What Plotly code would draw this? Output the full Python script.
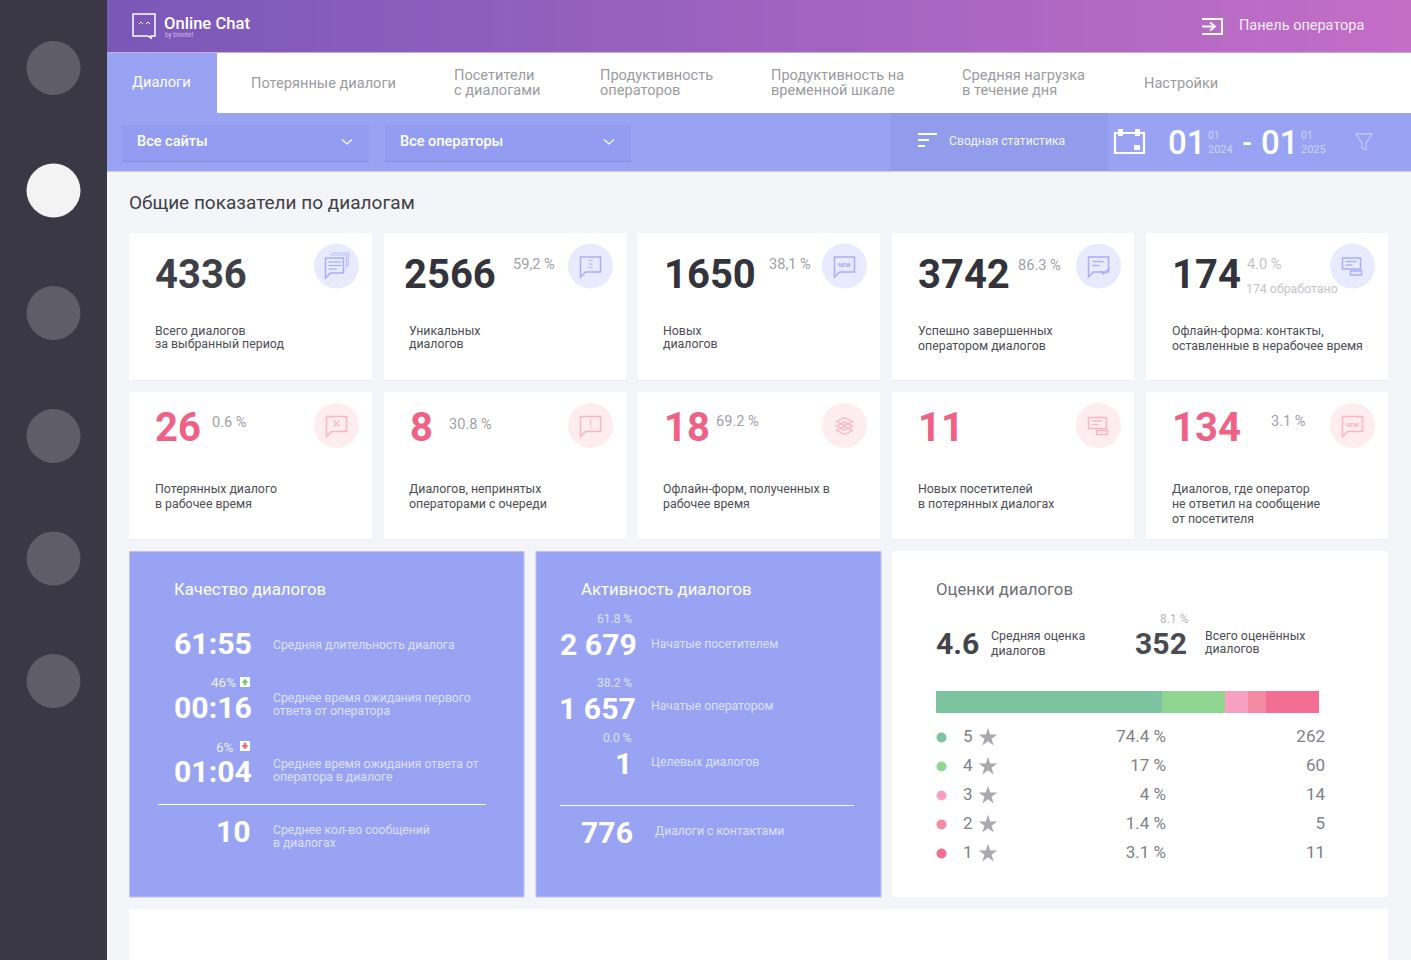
import plotly.graph_objects as go

# ---------- data ----------
tabs = [("Потерянные диалоги",), ("Посетители", "с диалогами"), ("Продуктивность", "операторов"),
        ("Продуктивность на", "временной шкале"), ("Средняя нагрузка", "в течение дня"), ("Настройки",)]
top_values = ["4336", "2566", "1650", "3742", "174"]
top_shares = ["", "59,2 %", "38,1 %", "86.3 %", "4.0 %"]
top_labels = [("Всего диалогов", "за выбранный период"), ("Уникальных", "диалогов"), ("Новых", "диалогов"),
              ("Успешно завершенных", "оператором диалогов"), ("Офлайн-форма: контакты,", "оставленные в нерабочее время")]
low_values = ["26", "8", "18", "11", "134"]
low_shares = ["0.6 %", "30.8 %", "69.2 %", "", "3.1 %"]
low_labels = [("Потерянных диалого", "в рабочее время"), ("Диалогов, непринятых", "операторами с очереди"),
              ("Офлайн-форм, полученных в", "рабочее время"), ("Новых посетителей", "в потерянных диалогах"),
              ("Диалогов, где оператор", "не ответил на сообщение", "от посетителя")]
quality_values = ["61:55", "00:16", "01:04", "10"]
quality_labels = [("Средняя длительность диалога",), ("Среднее время ожидания первого", "ответа от оператора"),
                  ("Среднее время ожидания ответа от", "оператора в диалоге"), ("Среднее кол-во сообщений", "в диалогах")]
activity_values = ["2 679", "1 657", "1", "776"]
activity_shares = ["61.8 %", "38.2 %", "0.0 %", ""]
activity_labels = ["Начатые посетителем", "Начатые оператором", "Целевых диалогов", "Диалоги с контактами"]
ratings = ["5", "4", "3", "2", "1"]
rating_shares = ["74.4 %", "17 %", "4 %", "1.4 %", "3.1 %"]
rating_counts = ["262", "60", "14", "5", "11"]
rating_bar_widths = [59.0, 16.4, 6.1, 4.7, 14.1]  # segment widths as drawn, percent of bar
rating_colors = ["#7cc3a0", "#90d590", "#f7a0bf", "#f48ba3", "#f46d93"]

# ---------- palette ----------
BG = "#f4f5f8"; SIDE = "#3b3845"; BLUE = "#99a3f3"; PINK = "#ef6285"; DARK = "#33333b"
GRAY = "#a0a0a6"; LABEL = "#4d4d55"; ICON = "#a6aef8"; ICONP = "#fab4c6"; SOFT = "#dde0fc"
LS = 12.35  # small label size
DS = 12.2   # panel description size
NS = 40     # KPI number size
VS = 30.2   # panel value size
PT = 16.75  # panel title size

W, H = 1411, 960
shapes, ann = [], []


def rect(x0, y0, x1, y1, fill, **kw):
    shapes.append(dict(type="rect", xref="x", yref="y", x0=x0, y0=y0, x1=x1, y1=y1,
                       fillcolor=fill, line=dict(width=kw.get("lw", 0), color=kw.get("lc", fill)), layer="below"))


def circle(cx, cy, r, fill):
    shapes.append(dict(type="circle", xref="x", yref="y", x0=cx - r, y0=cy - r, x1=cx + r, y1=cy + r,
                       fillcolor=fill, line=dict(width=0), layer="below"))


def path(d, color, lw=1.5, fill=None):
    shapes.append(dict(type="path", xref="x", yref="y", path=d, line=dict(color=color, width=lw),
                       fillcolor=fill if fill else "rgba(0,0,0,0)", layer="below"))


def seg(x0, y0, x1, y1, color, lw=1.5):
    shapes.append(dict(type="line", xref="x", yref="y", x0=x0, y0=y0, x1=x1, y1=y1,
                       line=dict(color=color, width=lw), layer="below"))


def text(x, y, s, size=LS, color=LABEL, weight=400, anchor="left"):
    ann.append(dict(x=x, y=y, xref="x", yref="y", text=s, showarrow=False, xanchor=anchor, yanchor="middle",
                    borderpad=0, borderwidth=0, font=dict(family="Roboto", size=size, color=color, weight=weight)))


def lines(x, ys, rows, **kw):
    for y, row in zip(ys, rows):
        text(x, y, row, **kw)


def bubble(x, y, w, h, color, lw=1.5, fill=None):
    path(f"M{x},{y} H{x+w} V{y+h} H{x+5} L{x},{y+h+5} Z", color, lw, fill)


# ---------- page frame ----------
rect(0, 0, 107, H, SIDE)
for i, cy in enumerate([68, 190.5, 313, 436, 558.5, 681]):
    circle(53.5, cy, 27, "#f3f3f3" if i == 1 else "#5f5d67")

# header gradient built from thin strips
c0, c1 = (122, 88, 184), (195, 110, 199)
n = 163
for i in range(n):
    t = i / (n - 1)
    col = "rgb({},{},{})".format(*[round(a + (b - a) * t) for a, b in zip(c0, c1)])
    x0 = 107 + i * 8
    rect(x0, 0, min(x0 + 9, W), 52, col)
rect(107, 52, W, 53, "#c9a8e0")
rect(107, 53, W, 113, "#ffffff")
rect(107, 53, 217, 113, BLUE)
rect(107, 113, W, 171, BLUE)
rect(107, 171, W, 172, "#cbd0f8")
rect(890, 113, 1108, 171, "#919cec")

# logo
path("M133,14 H155 V36 H151 V38 L148,36 H133 Z", "#ffffff", 1.5)
path("M139,24 L141,22 L143,24", "#ffffff", 1)
path("M146,24 L148,22 L150,24", "#ffffff", 1)
text(164, 23, "Online Chat", 16.6, "#ffffff", 500)
text(165, 35, "by binotel", 6.5, "#d4bdea")

# operator panel icon
path("M1202,19 H1222 V34 H1202", "#ffffff", 2)
seg(1202, 26.5, 1214, 26.5, "#ffffff", 2)
path("M1210,22.5 L1215,26.5 L1210,30.5", "#ffffff", 2)
text(1239, 25.5, "Панель оператора", 14.5, "#f6ecfa")

# tabs
text(132, 82, "Диалоги", 14.6, "#ffffff")
tab_x = [251, 454, 600, 771, 962, 1144]
for x, rows in zip(tab_x, tabs):
    if len(rows) == 1:
        text(x, 82.5, rows[0], 14.6, "#9b9ba0")
    else:
        lines(x, [75, 90], rows, size=14.6, color="#9b9ba0")

# filters
for x0, x1, label, tx, chev in [(122, 369, "Все сайты", 137, 347), (385, 631, "Все операторы", 400, 609)]:
    rect(x0, 125, x1, 161, "#929df1")
    rect(x0, 161, x1, 162, "#8590e0")
    text(tx, 141.5, label, 14.5, "#ffffff", 500)
    path(f"M{chev-5},139.5 L{chev},144 L{chev+5},139.5", "#ffffff", 1.2)

for x1, y in [(937, 134), (929, 140), (925, 146)]:
    seg(918, y, x1, y, "#ffffff", 2)
text(949, 140.5, "Сводная статистика", 12.2, "#f3f4fe")

# calendar + dates
path("M1115,133 H1144 V153 H1115 Z", "#ffffff", 2.2)
rect(1118, 129, 1123, 136, "#ffffff")
rect(1135, 129, 1140, 136, "#ffffff")
rect(1134, 145, 1140, 150, "#ffffff")
text(1168, 142.5, "01", 33, "#ffffff", 500)
text(1208, 135, "01", 10.5, "#cdd1fa")
text(1208, 149, "2024", 11, "#cdd1fa")
text(1242, 143, "-", 26, "#ffffff", 700)
text(1261, 142.5, "01", 33, "#ffffff", 500)
text(1301, 135, "01", 10.5, "#cdd1fa")
text(1301, 149, "2025", 11, "#cdd1fa")
path("M1356,134 H1372 L1366,143 V150 L1362,148 V143 Z", "#c3c8f8", 1.3)

text(129, 202.5, "Общие показатели по диалогам", 19, "#3f3f47")


# ---------- KPI cards ----------
def icon(kind, cx, cy, c):
    x, y = cx - 10, cy - 9
    if kind == "stack":
        path(f"M{x+5},{y-4} H{x+22} V{y+9}", "#bcc2f9", 1.2)
        path(f"M{x+3},{y-2} H{x+20} V{y+11}", "#bcc2f9", 1.2)
        bubble(x - 1, y + 1, 18, 15, c, 1.5, "#e8eafd")
        for k, ww in ((5, 13), (8.5, 13), (12, 8)):
            seg(x + 2, y + k, x + 2 + ww, y + k, c, 1.2)
    elif kind == "list":
        bubble(x, y, 20, 15, c)
        for k in (3.5, 7, 10.5):
            seg(x + 8, y + k, x + 12, y + k, "#b8bef9", 1.2)
    elif kind == "new":
        bubble(x, y, 20, 15, c)
        text(cx, y + 7.5, "NEW", 6, c, 700, "center")
    elif kind == "check":
        bubble(x, y, 20, 15, c)
        seg(x + 4, y + 4.5, x + 15, y + 4.5, c, 1.3)
        seg(x + 4, y + 8.5, x + 11, y + 8.5, c, 1.3)
        path(f"M{x+12},{y+14} L{x+15},{y+17} L{x+21},{y+11}", c, 1.3)
    elif kind == "form":
        rect(x, y + 1, x + 18, y + 12, "rgba(0,0,0,0)", lw=1.5, lc=c)
        seg(x + 3, y + 4.5, x + 14, y + 4.5, c, 1.3)
        seg(x + 3, y + 8, x + 10, y + 8, c, 1.3)
        rect(x + 8, y + 14, x + 19, y + 18, "rgba(0,0,0,0)", lw=1.5, lc=c)
    elif kind == "x":
        bubble(x, y, 20, 15, c)
        seg(cx - 3, y + 4, cx + 3, y + 10, c, 1.2)
        seg(cx + 3, y + 4, cx - 3, y + 10, c, 1.2)
    elif kind == "excl":
        bubble(x, y, 20, 15, c)
        seg(cx, y + 3.5, cx, y + 8.5, c, 1.3)
        seg(cx, y + 10, cx, y + 11.5, c, 1.3)
    elif kind == "layers":
        for dy in (0, 4.5, 9):
            path(f"M{cx-8},{y+5+dy} L{cx},{y+1+dy} L{cx+8},{y+5+dy} L{cx},{y+9+dy} Z", c, 1.2,
                 "#fdecf0" if dy == 0 else None)


card_x = [(129, 372), (384, 626), (638, 880), (892, 1134), (1146, 1388)]
top_vx = [155, 404, 664, 918, 1172]
top_px = [0, 513, 769, 1018, 1247]
top_py = [0, 264, 264, 265, 264]
top_lx = [155, 409, 663, 918, 1172]
top_ly = [(331, 344), (331, 344), (331, 344), (331, 346), (331, 346)]
top_ic = ["stack", "list", "new", "check", "form"]
low_vx = [155, 410, 664, 918, 1172]
low_px = [212, 449, 716, 0, 1271]
low_py = [422, 424, 421, 0, 421]
low_ic = ["x", "excl", "layers", "form", "new"]

for i, (x0, x1) in enumerate(card_x):
    for y0, y1 in ((233, 380), (392, 539)):
        rect(x0, y0 + 1, x1, y1 + 1, "#edeef2")
        rect(x0, y0, x1, y1, "#ffffff")
    cx = x1 - 35.5
    circle(cx, 266, 22.5, "#e8eafd")
    icon(top_ic[i], cx, 266, ICON)
    circle(cx, 425.5, 22.5, "#fdecf0")
    icon(low_ic[i], cx, 425.5, ICONP)
    text(top_vx[i], 274, top_values[i], NS, "#3f3f47" if i == 0 else DARK, 700)
    if top_shares[i]:
        text(top_px[i], top_py[i], top_shares[i], 14.6, "#c3c3c8" if i == 4 else GRAY)
    lines(top_lx[i], top_ly[i], top_labels[i])
    text(low_vx[i], 427, low_values[i], NS, PINK, 700)
    if low_shares[i]:
        text(low_px[i], low_py[i], low_shares[i], 14.6, GRAY)
    lines(top_lx[i], (489, 504, 519), low_labels[i])
text(1246, 289, "174 обработано", LS, "#c3c3c8")

# ---------- quality panel ----------
rect(129.5, 551.5, 524, 897, BLUE, lw=1, lc="#bcc2f8")
text(174, 589, "Качество диалогов", PT, "#ffffff")
for v, y in zip(quality_values[:3], (643, 707, 771)):
    text(174, y, v, VS, "#ffffff", 700)
text(251, 831, quality_values[3], VS, "#ffffff", 700, "right")
for rows, ys in zip(quality_labels, ((645,), (698, 711), (764, 777), (830, 843))):
    lines(273, ys, rows, size=DS, color=SOFT)
text(236, 681.5, "46%", 13.5, "#eceefe", 400, "right")
text(234, 746.5, "6%", 13.5, "#eceefe", 400, "right")
rect(240, 677, 250, 687, "#ffffff")
path("M245,679 L248,682.5 H246 V685 H244 V682.5 H242 Z", "#74c476", 0.5, "#74c476")
rect(240, 741, 250, 751, "#ffffff")
path("M245,749 L248,745.5 H246 V743 H244 V745.5 H242 Z", "#f0607f", 0.5, "#f0607f")
seg(158, 804.5, 486, 804.5, "#ffffff", 1.2)

# ---------- activity panel ----------
rect(536, 551.5, 881, 897, BLUE, lw=1, lc="#bcc2f8")
text(581, 589, "Активность диалогов", PT, "#ffffff")
for v, s, lab, vy, sy, ly, rx in zip(activity_values, activity_shares, activity_labels,
                                     (644, 708, 763, 832), (619, 683, 738, 0), (644, 706, 762, 831),
                                     (637, 636, 632, 633)):
    text(rx, vy, v, VS, "#ffffff", 700, "right")
    if s:
        text(632, sy, s, 12, SOFT, 400, "right")
    text(655 if ly == 831 else 651, ly, lab, DS, SOFT)
seg(560, 805.5, 854, 805.5, "#ffffff", 1.2)

# ---------- ratings panel ----------
rect(892, 551, 1388, 897, "#ffffff")
text(936, 589, "Оценки диалогов", PT, "#6e6e75")
text(936, 643, "4.6", VS, "#44444c", 700)
lines(991, (636, 651), ("Средняя оценка", "диалогов"), size=LS)
text(1160, 619, "8.1 %", 12, "#b5b5ba")
text(1135, 643, "352", VS, "#4a4a52", 700)
lines(1205, (636, 649), ("Всего оценённых", "диалогов"), size=LS)

rect(129, 909, 1388, 960, "#ffffff")

# ---------- traces ----------
fig = go.Figure()
for r, w, c in zip(ratings, rating_bar_widths, rating_colors):
    fig.add_trace(go.Bar(x=[w], y=["Оценки"], orientation="h", marker=dict(color=c, line=dict(width=0)),
                         name=r, xaxis="x2", yaxis="y2", hoverinfo="skip"))
fig.add_trace(go.Scatter(x=[941.5] * 5, y=ratings, mode="markers", xaxis="x", yaxis="y3", hoverinfo="skip",
                         marker=dict(size=10, color=rating_colors, line=dict(width=0))))
fig.add_trace(go.Scatter(x=[988] * 5, y=ratings, mode="markers", xaxis="x", yaxis="y3", hoverinfo="skip",
                         marker=dict(size=14, symbol="star", color="#aaaaae", line=dict(width=0))))
for xs, labels, pos in [(963, ratings, "middle right"), (1166, rating_shares, "middle left"),
                        (1325, rating_counts, "middle left")]:
    fig.add_trace(go.Scatter(x=[xs] * 5, y=ratings, mode="text", text=labels, textposition=pos,
                             xaxis="x", yaxis="y3", hoverinfo="skip",
                             textfont=dict(family="Roboto", size=17, color="#808087")))

hidden = dict(visible=False, fixedrange=True)
fig.update_layout(
    width=W, height=H, margin=dict(l=0, r=0, t=0, b=0), autosize=False, showlegend=False,
    paper_bgcolor=BG, plot_bgcolor="rgba(0,0,0,0)", barmode="stack", bargap=0, dragmode=False,
    hovermode=False, shapes=shapes, annotations=ann,
    xaxis=dict(range=[0, W], domain=[0, 1], **hidden),
    yaxis=dict(range=[H, 0], domain=[0, 1], **hidden),
    xaxis2=dict(range=[0, 100], domain=[936 / W, 1319 / W], anchor="y2", **hidden),
    yaxis2=dict(range=[-0.5, 0.5], type="category", domain=[1 - 713 / H, 1 - 691 / H], anchor="x2", **hidden),
    yaxis3=dict(type="category", categoryorder="array", categoryarray=ratings, range=[4.5, -0.5],
                domain=[1 - 868 / H, 1 - 723 / H], anchor="x", **hidden),
)
fig.write_html("out.html", config=dict(displayModeBar=False),
               post_script="document.body.style.margin='0';document.body.style.overflow='hidden';")
